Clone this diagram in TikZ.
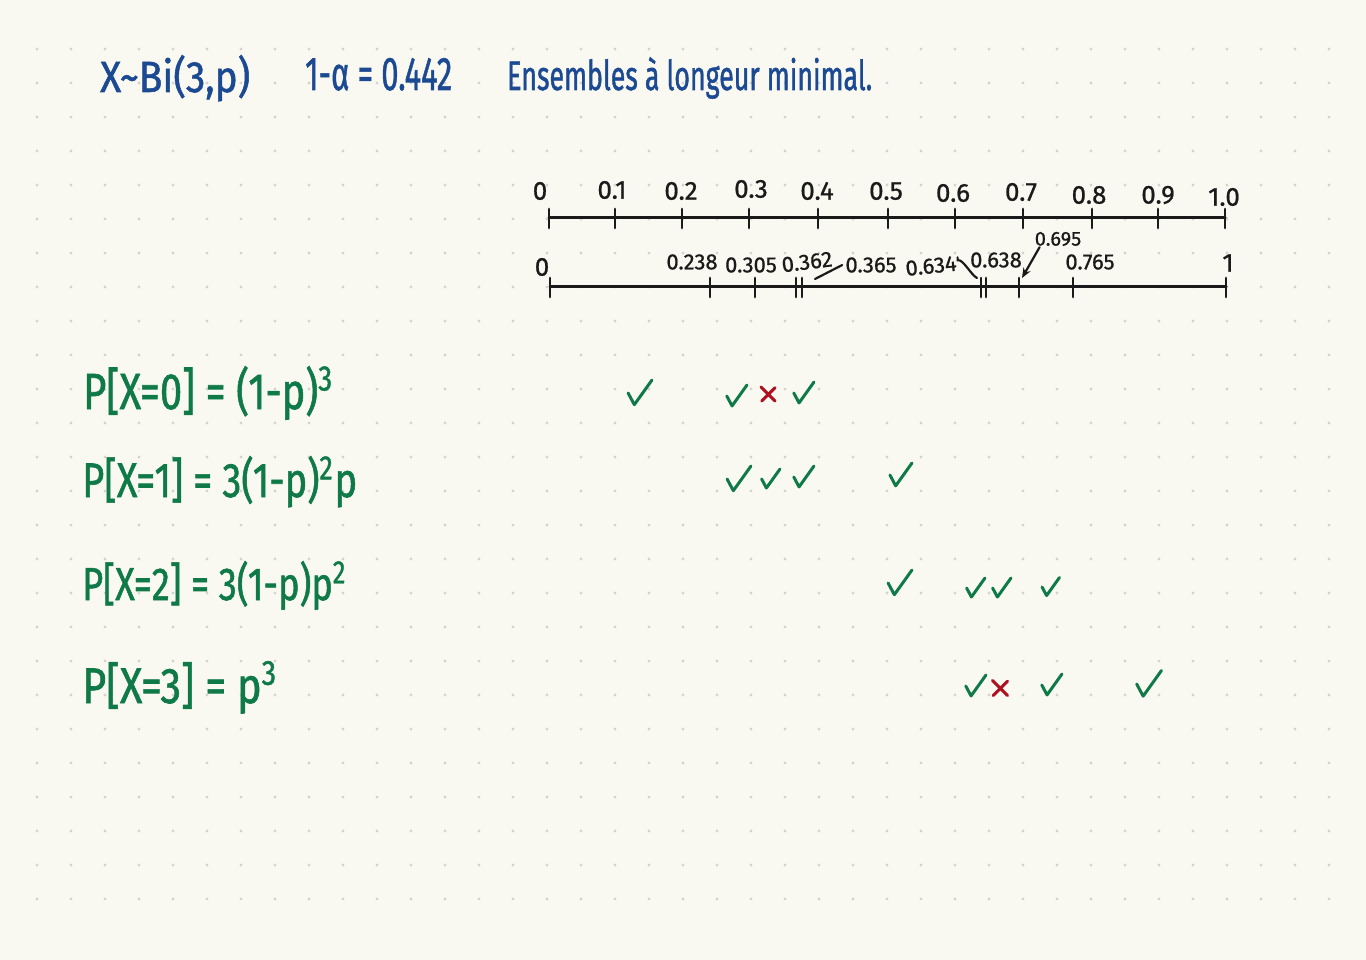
\documentclass[tikz,border=0pt]{standalone}
\usepackage{fontspec}
\setmainfont{Fira Sans}
\newfontfamily\handb[FakeBold=1.3]{Fira Sans}
\newfontfamily\handm[FakeBold=0.8]{Fira Sans}
\usepackage{graphicx}
\usetikzlibrary{arrows.meta}
\definecolor{paper}{HTML}{FAF9F1}
\definecolor{dotc}{HTML}{D3D3CF}
\definecolor{ink}{HTML}{1B4A93}
\definecolor{grn}{HTML}{0F7A48}
\definecolor{xred}{HTML}{AE1020}
\definecolor{pen}{HTML}{1A1A1A}
\newcommand\chkmark[3]{\draw[chk, shift={(#1,#2)}, scale=#3] (-0.42,0) -- (-0.18,0.45) -- (0.5,-0.5);}
\newcommand\crossmk[3]{\draw[crs, shift={(#1,#2)}, scale=#3] (-0.5,-0.5) -- (0.5,0.5) (0.5,-0.45) -- (-0.45,0.5);}
\begin{document}
\begin{tikzpicture}[x=1pt,y=-1pt,
  ln/.style={line width=3pt, draw=pen, line cap=round},
  tk/.style={line width=2.7pt, draw=pen, line cap=round},
  lbl/.style={inner sep=0pt, text=pen, font=\handm\fontsize{26}{26}\selectfont},
  lblb/.style={inner sep=0pt, text=pen, font=\handm\fontsize{22}{22}\selectfont},
  lbls/.style={inner sep=0pt, text=pen, font=\handm\fontsize{20}{20}\selectfont},
  lead/.style={line width=2.2pt, draw=pen, line cap=round},
  chk/.style={draw=grn, line width=3pt, line cap=round, line join=round},
  crs/.style={draw=xred, line width=3pt, line cap=round},
  eq/.style={anchor=base west, inner sep=0pt, text=grn, font=\handb},
  ttl/.style={anchor=base west, inner sep=0pt, text=ink, font=\handb}]
\fill[paper] (0,0) rectangle (1366,960);
\useasboundingbox (0,0) rectangle (1366,960);
% dot grid
\foreach \i in {0,...,38}{\foreach \j in {0,...,25}{\fill[dotc] (37+34*\i,49+34*\j) circle[radius=1.6];}}
% title
\node[ttl] (t1) at (100,92) {\resizebox{150pt}{37pt}{X\textasciitilde Bi(3,p)}};
\node[ttl] (t2) at (305,90) {\resizebox{147pt}{32pt}{1-α = 0.442}};
\node[ttl] (t3) at (507,90) {\resizebox{365pt}{33pt}{Ensembles à longeur minimal.}};
% number line 1
\coordinate (a0) at (549,218);
\coordinate (a1) at (1225,218);
\draw[ln] (a0) -- (a1);
\foreach \x in {549,615,682,749,818,888,955,1023,1092,1158,1225}{\draw[tk] (\x,209) -- (\x,228);}
\foreach \x/\y/\t [count=\n] in {540/191/0, 612/190/0.1, 681/191/0.2, 751/189/0.3, 817/191/0.4, 886/191/0.5, 953/193/0.6, 1021/192/0.7, 1089/195/0.8, 1158/195/0.9, 1224/197/1.0}{\node[lbl] (la\n) at (\x,\y) {\t};}
% number line 2
\coordinate (b0) at (550,287);
\coordinate (b1) at (1226,287);
\draw[ln] (b0) -- (b1);
\foreach \x in {550,710,755,796,802,981,986,1019,1073,1226}{\draw[tk] (\x,278) -- (\x,297);}
\node[lbl] (lb0) at (542,267) {0};
\node[lblb] (l238) at (692,262) {0.238};
\node[lblb] (l305) at (751,265) {0.305};
\node[lblb, rotate=7] (l362) at (807,262) {0.362};
\node[lblb] (l365) at (871,265) {0.365};
\node[lblb, rotate=6] (l634) at (931,266) {0.634};
\node[lblb] (l638) at (996,260) {0.638};
\node[lbls] (l695) at (1058,239) {0.695};
\node[lblb] (l765) at (1090,262) {0.765};
\node[lbl] (lb1) at (1228,263) {1};
\coordinate (p365) at (815,279);
\coordinate (p634) at (977,278);
\coordinate (p695) at (1022,278);
\draw[lead] (p365) -- ([xshift=-3pt]l365.west);
\draw[lead] ([xshift=1pt,yshift=6pt]l634.east) -- ++(0,3) .. controls +(5,-2) and +(-6,-3) .. (p634);
\draw[lead, -{Stealth[length=10pt,width=8pt]}] ([xshift=5pt,yshift=-1pt]l695.south west) -- (p695);
% equations
\node[eq] (e0) at (83,409) {\resizebox{251pt}{43pt}{P[X=0] = (1-p)\textsuperscript{3}}};
\node[eq] (e1) at (82,497) {\resizebox{275pt}{41pt}{P[X=1] = 3(1-p)\textsuperscript{2}p}};
\node[eq] (e2) at (82,600) {\resizebox{265pt}{39pt}{P[X=2] = 3(1-p)p\textsuperscript{2}}};
\node[eq] (e3) at (82,703) {\resizebox{196pt}{42pt}{P[X=3] = p\textsuperscript{3}}};
% marks row 1
\chkmark{639}{393}{26}
\chkmark{736}{396}{22}
\crossmk{768}{394}{14}
\chkmark{803}{393}{22}
% row 2
\chkmark{738}{479}{26}
\chkmark{770}{479}{20}
\chkmark{803}{477}{22}
\chkmark{900}{475}{24}
% row 3
\chkmark{899}{583}{26}
\chkmark{975}{588}{20}
\chkmark{1001}{588}{20}
\chkmark{1050}{587}{19}
% row 4
\chkmark{975}{686}{22}
\crossmk{1000}{688}{15}
\chkmark{1051}{685}{22}
\chkmark{1148}{684}{27}
\end{tikzpicture}
\end{document}
